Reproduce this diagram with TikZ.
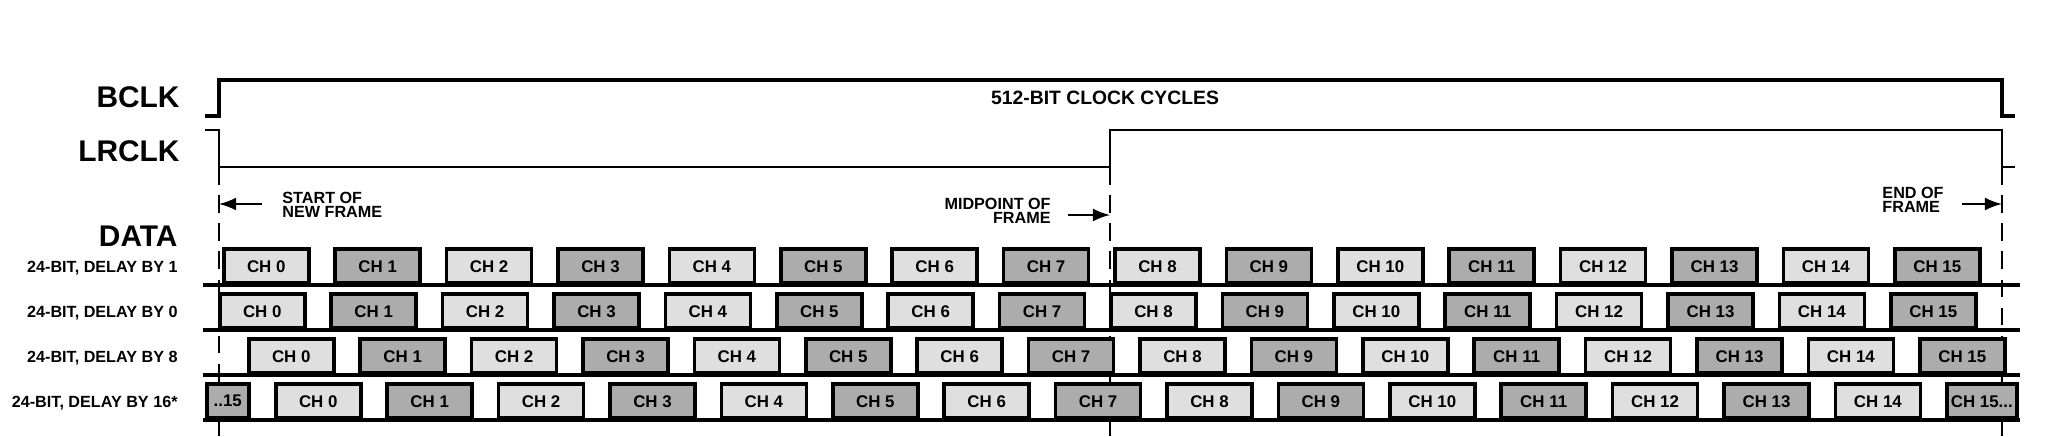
\documentclass[tikz,border=0pt]{standalone}
\usepackage{fontspec}
\setmainfont{Liberation Sans}
\usetikzlibrary{calc}

\begin{document}
\begin{tikzpicture}[x=0.01cm,y=-0.01cm,
  sig/.style={line width=1.1pt},
  thin sig/.style={line width=0.7pt},
  frameline/.style={dashed,line width=0.6pt,dash pattern=on 5pt off 3pt},
  lbl/.style={font=\bfseries\fontsize{8.5}{9}\selectfont,anchor=east},
  rowlbl/.style={font=\bfseries\fontsize{4.6}{5}\selectfont,anchor=east},
  note/.style={font=\bfseries\fontsize{4.6}{5}\selectfont,align=left},
  chbox/.style={draw,line width=1pt,anchor=south west,minimum width=0.85cm,minimum height=0.34cm,inner sep=0pt,font=\bfseries\fontsize{4.8}{5}\selectfont},
  evench/.style={chbox,fill=gray!25},
  oddch/.style={chbox,fill=gray!65}]
\useasboundingbox (0,0) rectangle (2048,436);
% clocks
\draw[sig] (205,116) -- (219,116) -- (219,80) -- (2002,80) -- (2002,116) -- (2015,116);
\node[font=\bfseries\fontsize{5.5}{6}\selectfont] (cycles) at (1105,98) {512-BIT CLOCK CYCLES};
\draw[thin sig] (205,130) -- (219,130) -- (219,167) -- (1110,167) -- (1110,130) -- (2002,130) -- (2002,167) -- (2015,167);
\node[lbl] (bclk) at (192,97) {BCLK};
\node[lbl] (lrclk) at (192,151) {LRCLK};
\node[lbl] (data) at (190,236) {DATA};
% frame markers
\coordinate (start) at (219,167);
\coordinate (mid) at (1110,167);
\coordinate (stop) at (2002,167);
\foreach \c in {start,mid,stop} \draw[frameline] (\c) -- ++(0,269);
\node[note,anchor=west] (startnote) at (270,205) {START OF\\[-1pt]NEW FRAME};
\draw[-latex,thin sig] (262,204) -- (start |- 0,204);
\node[note,align=right,anchor=east] (midnote) at (1063,211) {MIDPOINT OF\\[-1pt]FRAME};
\draw[-latex,thin sig] (1068,215) -- (mid |- 0,215);
\node[note,anchor=east] (endnote) at (1956,200) {END OF\\[-1pt]FRAME};
\draw[-latex,thin sig] (1962,204) -- (stop |- 0,204);
% data rows: name / baseline / first channel start / label
\foreach \r/\y/\s/\t in {a/285/222/{24-BIT, DELAY BY 1},b/330/218/{24-BIT, DELAY BY 0},c/375/247/{24-BIT, DELAY BY 8},d/420/274/{24-BIT, DELAY BY 16*}}{
  \node[rowlbl] (\r lbl) at (190,\y-17) {\t};
  \draw[sig] (203,\y) -- (2020,\y);
  \foreach \i in {0,...,15}{
    \pgfmathtruncatemacro{\odd}{mod(\i,2)}
    \ifnum\odd=0 \def\st{evench}\else\def\st{oddch}\fi
    \def\chw{0.85cm}\def\tail{}
    \ifnum\i=15 \if\r d\def\chw{0.70cm}\def\tail{...}\fi\fi
    \node[\st,minimum width=\chw] (\r ch\i) at (\s+\i*111.4,\y) {CH \i\tail};
  }
}
\node[oddch,minimum width=0.42cm] (dprev) at (205,420) {..15};
\end{tikzpicture}
\end{document}
